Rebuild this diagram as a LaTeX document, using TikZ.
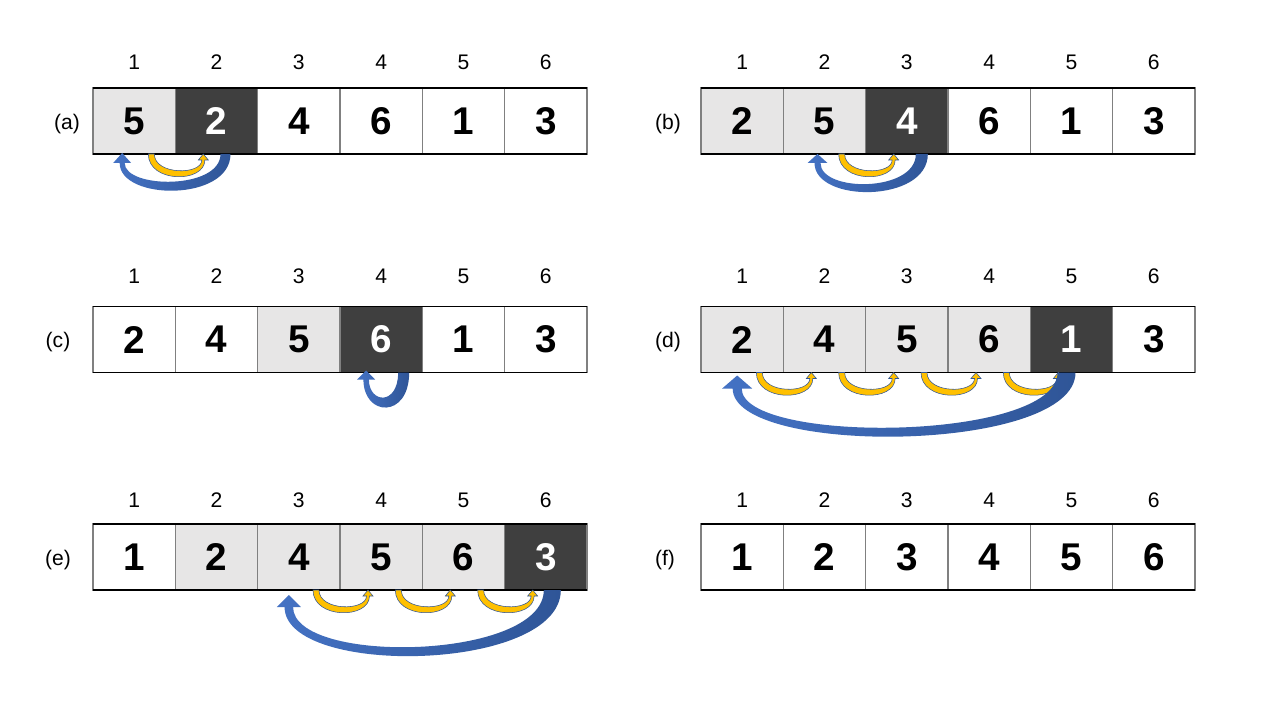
\documentclass[tikz,border=0pt]{standalone}
\usepackage{fontspec}
\setmainfont{Liberation Sans}
\usetikzlibrary{calc}
\definecolor{cellgray}{HTML}{E7E6E6}
\definecolor{celldark}{HTML}{3F3F3F}
\definecolor{arcblue}{HTML}{4472C4}
\definecolor{arcnavy}{HTML}{2F5597}
\definecolor{arcgold}{HTML}{FFC000}
\tikzset{
  cell/.style={draw=black!50, line width=0.6pt, minimum width=1.6467cm, minimum height=1.32cm,
    inner sep=0pt, outer sep=0pt, font=\fontsize{22}{26}\selectfont\bfseries},
  lite/.style={fill=cellgray},
  dark/.style={fill=celldark, text=white},
  plain/.style={fill=white},
  idx/.style={font=\fontsize{12}{14}\selectfont},
  lbl/.style={font=\fontsize{12}{14}\selectfont},
  edge/.style={line width=0.8pt},
  bigarc/.style={left color=arcblue, right color=arcnavy},
  smallarc/.style={fill=arcgold, draw=arcnavy, line width=0.3pt}
}
% bent band arrow: side, start, tip, width, outer depth, inner depth, head length, head half width, style
\newcommand\swoop[9]{%
  \path[#9] ($(#2)+({#1*#4},0)$)
    .. controls ($(#2)+({#1*#4},{#5*1.33})$) and ($(#3)+({-1*#1*#4/4},{#5*1.33})$) .. ($(#3)+({-1*#1*#4/4},#7)$)
    -- ($(#3)+({-1*#1*#8},#7)$) -- (#3) -- ($(#3)+({#1*#8},#7)$) -- ($(#3)+({#1*#4/4},#7)$)
    .. controls ($(#3)+({#1*#4/4},{#6*1.33})$) and ($(#2)+(0,{#6*1.33})$) .. (#2) -- cycle;
}
\begin{document}
\begin{tikzpicture}[x=0.02cm, y=-0.02cm]
  \fill[white] (0,0) rectangle (1280,720);
  \path[use as bounding box] (0,0) rectangle (1280,720);

  % the six rows of cells
  \foreach \p/\x/\y/\iy/\lx/\cells in {
    a/93/121/62/67/{5/lite,2/dark,4/plain,6/plain,1/plain,3/plain},
    b/701/121/62/668/{2/lite,5/lite,4/dark,6/plain,1/plain,3/plain},
    c/93/339.5/276/58/{2/plain,4/plain,5/lite,6/dark,1/plain,3/plain},
    d/701/339.5/276/668/{2/lite,4/lite,5/lite,6/lite,1/dark,3/plain},
    e/93/557/500/58/{1/plain,2/lite,4/lite,5/lite,6/lite,3/dark},
    f/701/557/500/665/{1/plain,2/plain,3/plain,4/plain,5/plain,6/plain}}{
    \node[lbl] (\p l) at (\lx,\y+3) {(\p)};
    \foreach \v/\f [count=\i] in \cells {
      \node[cell,\f] (\p\i) at ({\x+82.33*(\i-0.5)},\y) {\v};
      \node[idx] (\p n\i) at ({\x+82.33*(\i-0.5)},\iy) {\i};
    }
    \draw[edge] (\p1.north west) -- (\p6.north east);
    \draw[edge] (\p1.south west) -- (\p6.south east);
  }

  % small shifts
  \foreach \b in {a1,b2,d1,d2,d3,d4,e3,e4,e5} {
    \coordinate (ys) at ($(\b.south east)+(-21,0)$);
    \coordinate (yt) at ($(\b.south east)+(28,0)$);
    \swoop{-1}{ys}{yt}{6}{22}{16}{6}{5}{smallarc}
  }

  % insertions
  \coordinate (aS) at ($(a2.south)+(4,0)$);
  \coordinate (aT) at ($(a1.south)+(-12,-1)$);
  \swoop{1}{aS}{aT}{10}{36}{27}{10}{9}{bigarc}
  \coordinate (bS) at ($(b3.south)+(9,0)$);
  \coordinate (bT) at ($(b2.south)+(-7,0)$);
  \swoop{1}{bS}{bT}{12}{37}{29}{9}{10}{bigarc}
  \coordinate (cS) at ($(c4.south)+(17,0)$);
  \coordinate (cT) at ($(c4.south)+(-15,-2)$);
  \swoop{1}{cS}{cT}{11}{35}{25}{9}{9}{bigarc}
  \coordinate (dS) at ($(d5.south)+(-14,0)$);
  \coordinate (dT) at ($(d1.south)+(-5,3)$);
  \swoop{1}{dS}{dT}{18}{61}{52}{13}{15}{bigarc}
  \coordinate (eS) at ($(e6.south)+(-2,0)$);
  \coordinate (eT) at ($(e3.south)+(-10,5)$);
  \swoop{1}{eS}{eT}{17}{62}{53}{12}{12}{bigarc}
\end{tikzpicture}
\end{document}
